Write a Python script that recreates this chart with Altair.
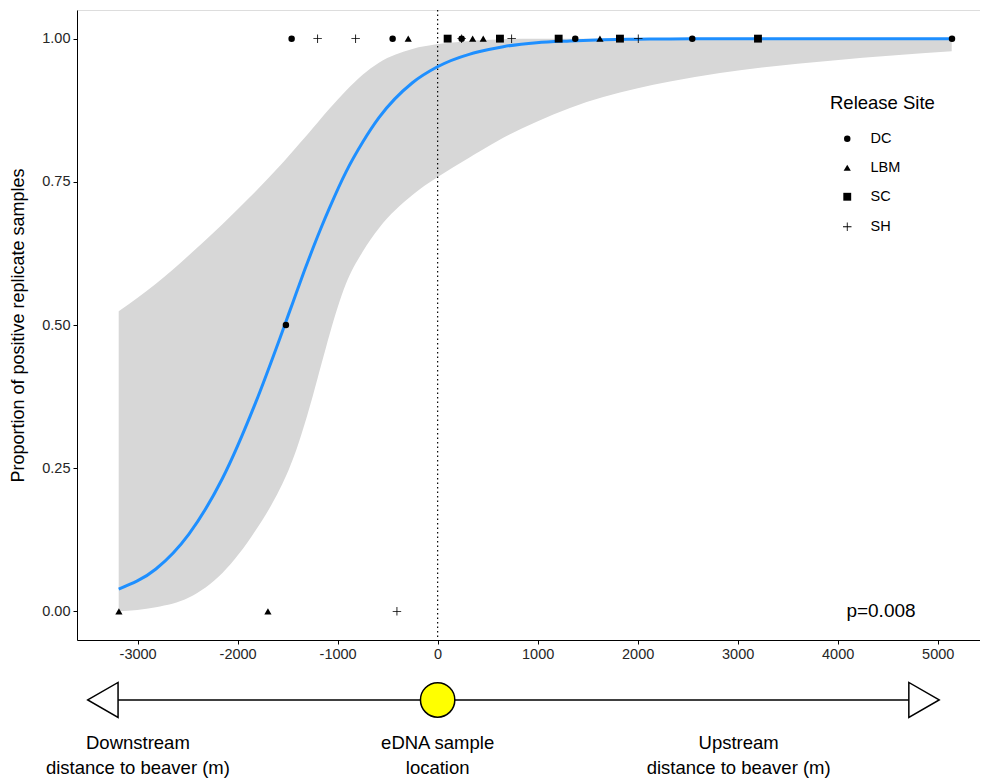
import altair as alt
import pandas as pd

FONT = "Liberation Sans"

# fitted logistic curve and its confidence ribbon
grid_x = [-3189, -2817, -2487, -2152, -1821, -1577, -1490, -1411, -1330, -1247, -1160, -1080,
          -917, -750, -587, -252, -11, 323, 410, 656, 990, 1323, 1656, 1990, 2323, 2823, 3953, 5140]
fit_p = [0.039, 0.074, 0.135, 0.232, 0.364, 0.477, 0.519, 0.557, 0.596, 0.634, 0.672, 0.705,
         0.767, 0.819, 0.862, 0.923, 0.950, 0.973, 0.977, 0.986, 0.993, 0.996, 0.998, 0.999,
         0.9995, 0.9998, 1.0, 1.0]
ci_low = [0.000, 0.007, 0.024, 0.067, 0.141, 0.214, 0.247, 0.283, 0.327, 0.377, 0.433, 0.484,
          0.572, 0.628, 0.669, 0.727, 0.757, 0.793, 0.802, 0.827, 0.855, 0.879, 0.898, 0.913,
          0.925, 0.940, 0.962, 0.978]
ci_high = [0.524, 0.572, 0.622, 0.676, 0.733, 0.778, 0.795, 0.811, 0.827, 0.844, 0.862, 0.878,
           0.909, 0.937, 0.958, 0.982, 0.990, 0.996, 0.997, 0.999, 1.0, 1.0, 1.0, 1.0,
           1.0, 1.0, 1.0, 1.0]

# observations per release site
sites = ["DC", "LBM", "SC", "SH"]
dc_x = [-1460, -450, 240, 1376, 2546, 5143, -1517]
dc_y = [1, 1, 1, 1, 1, 1, 0.5]
lbm_x = [-294, 350, 456, 1623, -3187, -1697]
lbm_y = [1, 1, 1, 1, 0, 0]
sc_x = [100, 623, 1210, 1823, 3203]
sc_y = [1, 1, 1, 1, 1]
sh_x = [-1200, -820, 240, 740, 2006, -407]
sh_y = [1, 1, 1, 1, 1, 0]

x_ticks = [-3000, -2000, -1000, 0, 1000, 2000, 3000, 4000, 5000]
y_ticks = [0, 0.25, 0.5, 0.75, 1.0]

# schematic below the axis
diag_y = -0.1547
arrow_line_x = [-3347, 4863]
arrow_left_x = [-3347]
arrow_right_x = [4863]
circle_x = [0]
diag_text = ["Downstream", "distance to beaver (m)", "eDNA sample", "location",
             "Upstream", "distance to beaver (m)"]
diag_text_x = [-2997, -2997, 0, 0, 3010, 3010]
diag_text_y = [-0.2298, -0.2734, -0.2298, -0.2734, -0.2298, -0.2734]

p_label = ["p=0.008"]
p_label_x = [4433]
p_label_y = [0]

fit_df = pd.DataFrame({"x": grid_x, "p": fit_p, "lo": ci_low, "hi": ci_high})
pts = []
for s, xs, ys in [("DC", dc_x, dc_y), ("LBM", lbm_x, lbm_y), ("SC", sc_x, sc_y), ("SH", sh_x, sh_y)]:
    for a, b in zip(xs, ys):
        pts.append({"x": a, "y": b, "site": s})
pts_df = pd.DataFrame(pts)

xscale = alt.Scale(domain=[-3606, 5423], nice=False, zero=False)
yscale = alt.Scale(domain=[-0.05, 1.05], nice=False, zero=False)

xaxis = alt.Axis(values=x_ticks, labelExpr="toString(datum.value)", title=None, grid=False,
                 labelFont=FONT, labelFontSize=14.5, labelColor="#262626", tickColor="black",
                 tickSize=4, labelPadding=3, domainColor="black", domainWidth=1)
yaxis = alt.Axis(values=y_ticks, format=".2f", title="Proportion of positive replicate samples",
                 grid=False, labelFont=FONT, labelFontSize=14.5, labelColor="#262626",
                 tickColor="black", tickSize=4, labelPadding=3, domainColor="black",
                 domainWidth=1, titleFont=FONT, titleFontSize=18, titleFontWeight="normal",
                 titleColor="black", titlePadding=14)

ribbon = alt.Chart(fit_df).mark_area(color="#d7d7d7", interpolate="monotone").encode(
    x=alt.X("x:Q", scale=xscale, axis=xaxis),
    y=alt.Y("lo:Q", scale=yscale, axis=yaxis),
    y2="hi:Q",
)

vline = alt.Chart(pd.DataFrame({"x": [0]})).mark_rule(
    color="black", strokeDash=[1.5, 3], strokeWidth=1.2
).encode(x=alt.X("x:Q", scale=xscale))

curve = alt.Chart(fit_df).mark_line(color="#1E8FFF", strokeWidth=3, interpolate="monotone").encode(
    x=alt.X("x:Q", scale=xscale),
    y=alt.Y("p:Q", scale=yscale),
)

legend = alt.Legend(
    title="Release Site", orient="none", legendX=753, legendY=84, symbolOffset=10,
    labelOffset=16, rowPadding=14, titlePadding=19, titleFont=FONT, titleFontSize=18.5,
    titleFontWeight="normal", titleColor="black", labelFont=FONT, labelFontSize=14.5,
    labelColor="black", symbolFillColor="black",
)

# thin filled plus (ggplot shape 3)
plus_path = "M-1,-0.1H1V0.1H-1Z M-0.1,-1H0.1V1H-0.1Z"

points = alt.Chart(pts_df).mark_point(
    filled=True, color="black", opacity=1
).encode(
    x=alt.X("x:Q", scale=xscale),
    y=alt.Y("y:Q", scale=yscale),
    shape=alt.Shape("site:N", scale=alt.Scale(
        domain=sites, range=["circle", "triangle-up", "square", plus_path]),
        legend=legend),
    size=alt.Size("site:N", scale=alt.Scale(domain=sites, range=[42, 72, 49, 121]),
                  legend=legend),
)

ptext = alt.Chart(pd.DataFrame({"t": p_label, "x": p_label_x, "y": p_label_y})).mark_text(
    font=FONT, fontSize=19, color="black", baseline="middle"
).encode(x=alt.X("x:Q", scale=xscale), y=alt.Y("y:Q", scale=yscale), text="t:N")

diag_line_df = pd.DataFrame({"x": [arrow_line_x[0]], "x2": [arrow_line_x[1]], "y": [diag_y]})
diag_line = alt.Chart(diag_line_df).mark_rule(color="black", strokeWidth=1.5).encode(
    x=alt.X("x:Q", scale=xscale), x2="x2:Q", y=alt.Y("y:Q", scale=yscale))

left_arrow = alt.Chart(pd.DataFrame({"x": arrow_left_x, "y": [diag_y]})).mark_point(
    shape="triangle-left", size=1225, filled=True, fill="white", stroke="black",
    strokeWidth=1.5, opacity=1
).encode(x=alt.X("x:Q", scale=xscale), y=alt.Y("y:Q", scale=yscale))

right_arrow = alt.Chart(pd.DataFrame({"x": arrow_right_x, "y": [diag_y]})).mark_point(
    shape="triangle-right", size=1225, filled=True, fill="white", stroke="black",
    strokeWidth=1.5, opacity=1
).encode(x=alt.X("x:Q", scale=xscale), y=alt.Y("y:Q", scale=yscale))

yellow = alt.Chart(pd.DataFrame({"x": circle_x, "y": [diag_y]})).mark_point(
    shape="circle", size=1180, filled=True, fill="#FFFF00", stroke="black",
    strokeWidth=1.5, opacity=1
).encode(x=alt.X("x:Q", scale=xscale), y=alt.Y("y:Q", scale=yscale))

diag_labels = alt.Chart(pd.DataFrame({"t": diag_text, "x": diag_text_x, "y": diag_text_y})).mark_text(
    font=FONT, fontSize=18.5, color="black", baseline="middle", align="center"
).encode(x=alt.X("x:Q", scale=xscale), y=alt.Y("y:Q", scale=yscale), text="t:N")

chart = alt.layer(
    ribbon, vline, curve, points, ptext, diag_line, left_arrow, right_arrow, yellow, diag_labels
).properties(
    width=903, height=630,
    autosize="none",
    padding={"left": 77, "top": 10, "right": 0, "bottom": 140},
).configure_view(stroke=None).configure(background="white")

chart.save("out.html", embed_options={"renderer": "svg", "actions": False})
